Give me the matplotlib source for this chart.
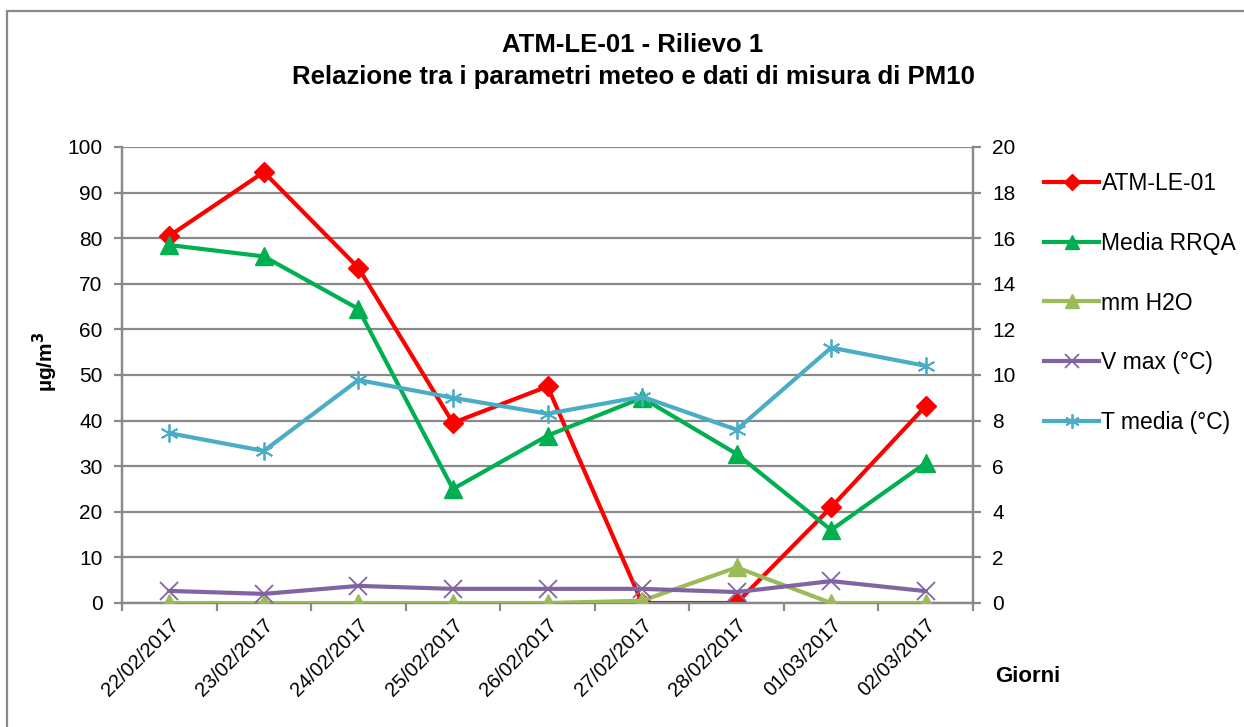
import matplotlib
matplotlib.use("Agg")
import matplotlib.pyplot as plt
from matplotlib.patches import Rectangle

plt.rcParams['font.family'] = ['Liberation Sans', 'DejaVu Sans']

giorni = ['22/02/2017', '23/02/2017', '24/02/2017', '25/02/2017', '26/02/2017',
          '27/02/2017', '28/02/2017', '01/03/2017', '02/03/2017']

# asse sinistro (µg/m3)
atm_le_01 = [80.5, 94.5, 73.5, 39.5, 47.5, 0.0, 0.0, 21.0, 43.2]
media_rrqa = [78.5, 76.0, 64.5, 25.0, 36.7, 45.0, 32.7, 16.0, 30.7]

# asse destro
mm_h2o = [0.0, 0.0, 0.0, 0.0, 0.0, 0.1, 1.56, 0.0, 0.0]
v_max = [0.53, 0.4, 0.75, 0.62, 0.62, 0.62, 0.48, 0.96, 0.52]
t_media = [7.45, 6.67, 9.78, 9.0, 8.3, 9.05, 7.6, 11.2, 10.4]

grigio = '#898989'

fig = plt.figure(figsize=(12.44, 7.27), dpi=100)
fig.patches.append(Rectangle((7 / 1244, -0.1), 1.2, 1 - 11 / 727 + 0.1,
                             transform=fig.transFigure, fill=False,
                             edgecolor=grigio, linewidth=1.6))

ax = fig.add_axes([122 / 1244, 124 / 727, 851 / 1244, 456 / 727])
ax2 = ax.twinx()

x = list(range(len(giorni)))

l1, = ax.plot(x, atm_le_01, color='#FF0000', lw=3, marker='D', ms=10,
              label='ATM-LE-01', zorder=3)
l2, = ax.plot(x, media_rrqa, color='#00B050', lw=3, marker='^', ms=13,
              label='Media RRQA', zorder=3)
l3, = ax2.plot(x, mm_h2o, color='#9BBB59', lw=3, marker='^', ms=13,
               label='mm H2O', zorder=3)
l4, = ax2.plot(x, v_max, color='#8064A2', lw=3, marker='x', ms=13, mew=1.3,
               label='V max (°C)', zorder=3)
l5, = ax2.plot(x, t_media, color='#4BACC6', lw=3, marker=(6, 2, 0), ms=13,
               mew=1.3, label='T media (°C)', zorder=3)

ax.set_xlim(-0.5, len(giorni) - 0.5)
ax.set_ylim(0, 100)
ax.set_yticks(range(0, 101, 10))
ax2.set_ylim(0, 20)
ax2.set_yticks(range(0, 21, 2))

ax.yaxis.grid(True, color=grigio, lw=1.6)
ax.set_axisbelow(True)

ax.set_xticks(x)
ax.set_xticklabels(giorni, rotation=45, ha='right', rotation_mode='anchor')
ax.set_xticks([i - 0.5 for i in range(len(giorni) + 1)], minor=True)
ax.tick_params(axis='x', which='major', length=0, pad=9, labelsize=14.5)
ax.tick_params(axis='x', which='minor', length=6, color=grigio, width=1.6)
ax.tick_params(axis='y', length=6, color=grigio, width=1.6, labelsize=15, pad=8)
ax2.tick_params(axis='y', length=6, color=grigio, width=1.6, labelsize=15, pad=8)

for a in (ax, ax2):
    a.spines['top'].set_visible(False)
    for s in ('left', 'right', 'bottom'):
        a.spines[s].set_color(grigio)
        a.spines[s].set_linewidth(1.6)

fig.text(45 / 1244, 1 - 362 / 727, 'µg/m$^\\mathbf{3}$', fontsize=15,
         fontweight='bold', rotation=90, ha='center', va='center')
fig.text(995 / 1244, 1 - 676 / 727, 'Giorni', fontsize=16, fontweight='bold',
         ha='left', va='center')

fig.text(633 / 1244, 1 - 45 / 727, 'ATM-LE-01 - Rilievo 1', fontsize=18.5,
         fontweight='bold', ha='center', va='center')
fig.text(633 / 1244, 1 - 77 / 727,
         'Relazione tra i parametri meteo e dati di misura di PM10',
         fontsize=18.5, fontweight='bold', ha='center', va='center')

fig.legend(handles=[l1, l2, l3, l4, l5], loc='upper left',
           bbox_to_anchor=(1035 / 1244, 1 - 163 / 727), frameon=False,
           fontsize=16.5, handlelength=2.4, handletextpad=0.1,
           labelspacing=1.6, borderaxespad=0, markerscale=0.8)

fig.savefig('out.png', dpi=100)
